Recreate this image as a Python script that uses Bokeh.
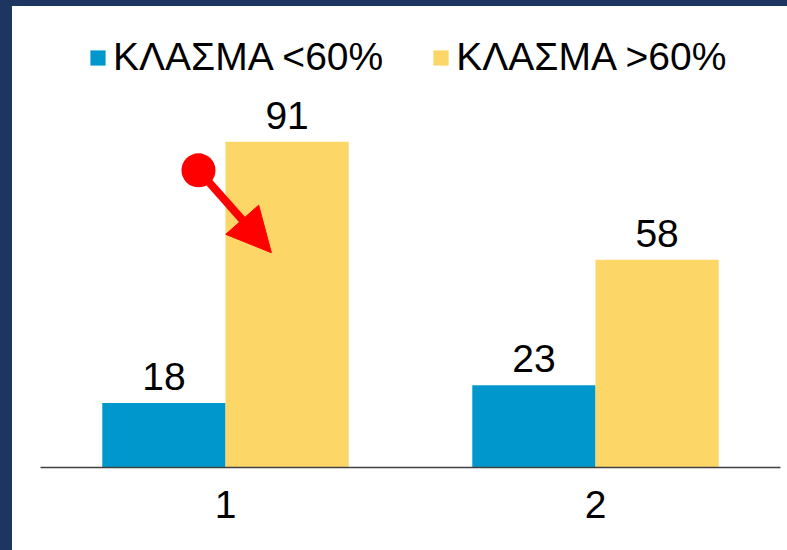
from bokeh.plotting import figure
from bokeh.models import (FactorRange, Range1d, ColumnDataSource, Legend, LegendItem,
                          Arrow, NormalHead, Div)
from bokeh.layouts import column, row
from bokeh.transform import dodge
from bokeh.core.properties import value
from bokeh.embed import file_html
from bokeh.resources import INLINE

categories = ["1", "2"]
series_names = ["ΚΛΑΣΜΑ <60%", "ΚΛΑΣΜΑ >60%"]
below60 = [18, 23]
above60 = [91, 58]

BLUE = "#0097CC"
YELLOW = "#FCD667"
NAVY = "#1C3561"
FONT = "Liberation Sans"
FS = "39px"

src = ColumnDataSource(dict(
    cat=categories, below=below60, above=above60,
    below_txt=[str(v) for v in below60], above_txt=[str(v) for v in above60]))

PX_PER_UNIT = 3.58
FRAME_H = 461

p = figure(x_range=FactorRange(*categories, range_padding=0),
           y_range=Range1d(0, FRAME_H / PX_PER_UNIT),
           width=775, height=544, output_backend="svg", toolbar_location=None,
           min_border_left=28, min_border_right=7, min_border_top=0, min_border_bottom=83)
p.background_fill_color = "white"
p.border_fill_color = "white"
p.outline_line_color = None
p.grid.visible = False
p.yaxis.visible = False

w = 0.333
r1 = p.vbar(x=dodge("cat", -w / 2, range=p.x_range), top="below", width=w, bottom=0,
            source=src, fill_color=BLUE, line_color=None)
r2 = p.vbar(x=dodge("cat", w / 2, range=p.x_range), top="above", width=w, bottom=0,
            source=src, fill_color=YELLOW, line_color=None)

p.text(x=dodge("cat", -w / 2, range=p.x_range), y="below", text="below_txt", source=src,
       text_align="center", text_baseline="bottom", y_offset=-13,
       text_font=value(FONT), text_font_size=FS, text_color="black")
p.text(x=dodge("cat", w / 2, range=p.x_range), y="above", text="above_txt", source=src,
       text_align="center", text_baseline="bottom", y_offset=-13,
       text_font=value(FONT), text_font_size=FS, text_color="black")

ax = p.xaxis[0]
ax.axis_line_color = "#404040"
ax.axis_line_width = 1.5
ax.major_tick_line_color = None
ax.minor_tick_line_color = None
ax.major_label_text_font = FONT
ax.major_label_text_font_size = FS
ax.major_label_text_color = "black"
ax.major_label_standoff = 17

# red pointer arrow (annotation)
arrow_start = (0.427, 83.0)
arrow_end = (0.624, 60.0)
p.add_layout(Arrow(end=NormalHead(size=44, fill_color="red", line_color="red"),
                   x_start=arrow_start[0], y_start=arrow_start[1],
                   x_end=arrow_end[0], y_end=arrow_end[1],
                   line_color="red", line_width=8))
p.scatter(x=[arrow_start[0]], y=[arrow_start[1]], size=34, color="red", line_color=None)

legend = Legend(items=[LegendItem(label=series_names[0], renderers=[r1]),
                       LegendItem(label=series_names[1], renderers=[r2])],
                orientation="horizontal", location=(48, 388),
                glyph_width=19, glyph_height=19, label_standoff=6, spacing=48,
                padding=0, margin=0, border_line_color=None, background_fill_alpha=0,
                label_text_font=FONT, label_text_font_size=FS,
                label_text_color="black")
p.add_layout(legend, "center")

# dark slide frame (top and left bands)
top_band = Div(text="", width=787, height=6, margin=0,
               styles={"background-color": NAVY})
left_band = Div(text="", width=12, height=544, margin=0,
                styles={"background-color": NAVY})
layout = column(top_band, row(left_band, p, spacing=0), spacing=0)

html = file_html(layout, INLINE)
open("out.html", "w").write(html)
